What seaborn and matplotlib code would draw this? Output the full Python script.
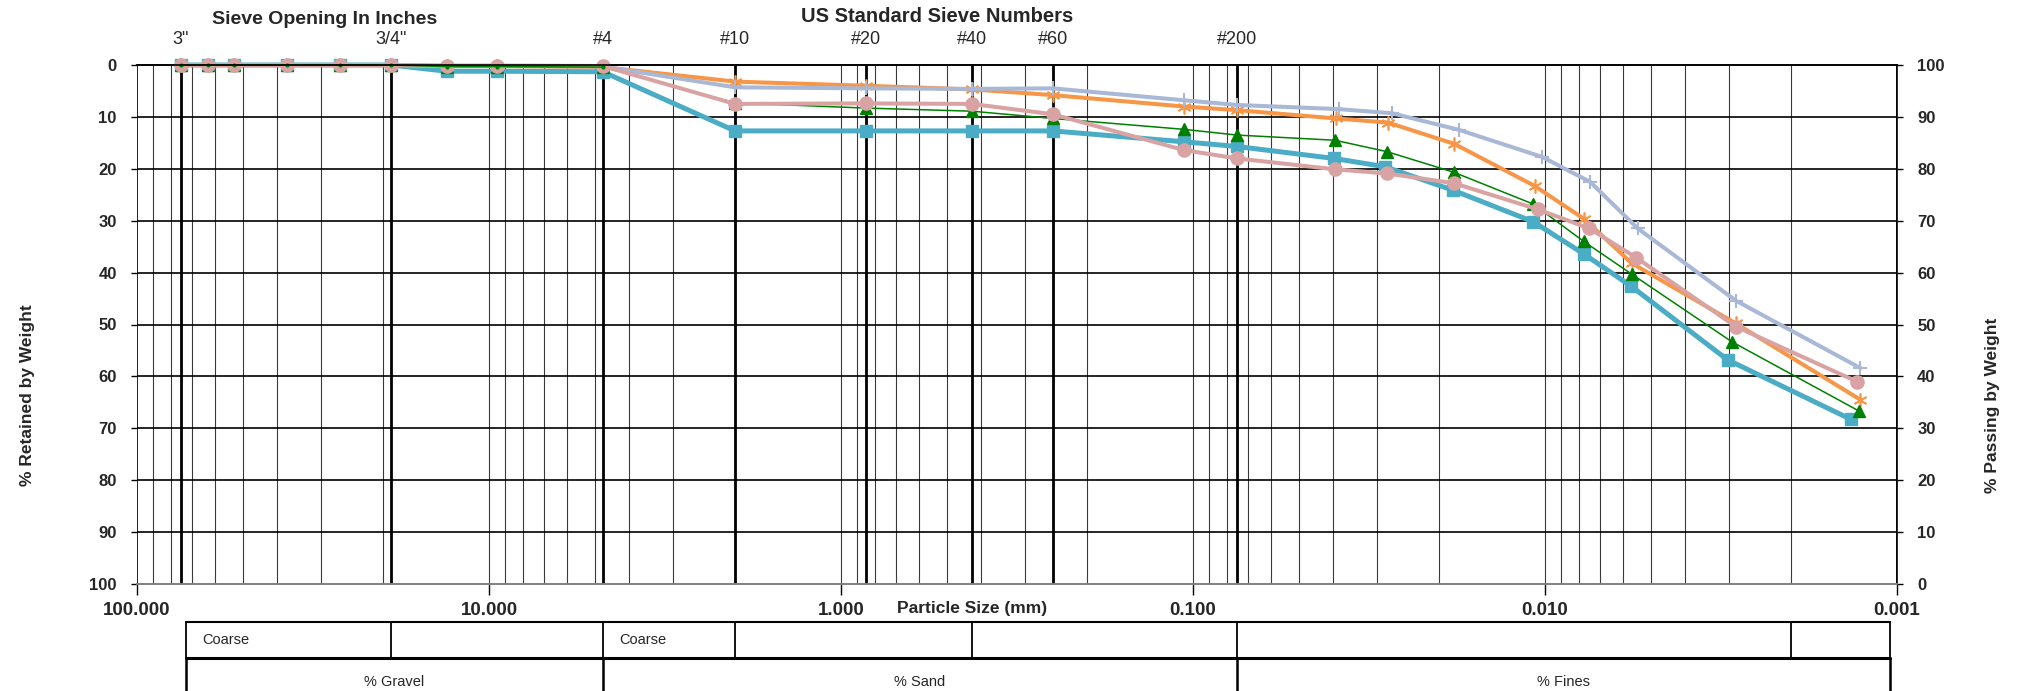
import matplotlib
matplotlib.use('Agg')
import matplotlib.pyplot as plt
import matplotlib.transforms as mtransforms
from matplotlib.ticker import FixedLocator, NullLocator
import seaborn as sns

# ── data: particle size (mm) vs % passing ───────────────────────────────────
sieve_mm = [75, 63, 53, 37.5, 26.5, 19.0, 13.2, 9.5, 4.75, 2.0, 0.85, 0.425, 0.25, 0.106, 0.075]

blue_d = sieve_mm + [0.0398, 0.0285, 0.0183, 0.0108, 0.00776, 0.0057, 0.00303, 0.00135]
blue_p = [100, 100, 100, 100, 100, 100, 98.8, 98.8, 98.7, 87.3, 87.3, 87.3, 87.3, 85.2, 84.3,
          82.0, 80.4, 75.9, 69.8, 63.6, 57.4, 43.2, 31.7]

orange_d = sieve_mm + [0.0393, 0.0279, 0.0181, 0.0107, 0.00773, 0.00567, 0.00287, 0.00127]
orange_p = [100, 100, 100, 100, 100, 100, 99.8, 99.8, 99.6, 96.8, 96.0, 95.3, 94.2, 92.0, 91.3,
            89.7, 88.9, 84.8, 76.7, 70.3, 61.8, 50.2, 35.5]

grey_d = sieve_mm + [0.0385, 0.0272, 0.01755, 0.0102, 0.00745, 0.00545, 0.00287, 0.00127]
grey_p = [100, 100, 100, 100, 100, 100, 99.8, 99.8, 99.7, 95.7, 95.5, 95.4, 95.5, 93.2, 92.3,
          91.5, 90.7, 87.5, 82.3, 77.5, 68.5, 54.6, 41.6]

pink_d = sieve_mm + [0.0395, 0.0281, 0.0181, 0.0105, 0.00748, 0.00551, 0.00287, 0.0013]
pink_p = [100, 100, 100, 100, 100, 100, 99.9, 99.9, 99.8, 92.5, 92.6, 92.5, 90.5, 83.6, 82.0,
          79.9, 79.1, 77.2, 72.2, 68.5, 62.9, 49.6, 39.0]

green_d = sieve_mm + [0.0395, 0.0281, 0.0181, 0.0108, 0.00776, 0.00567, 0.00295, 0.00128]
green_p = [100, 100, 100, 100, 100, 100, 99.7, 99.7, 99.6, 92.7, 91.7, 91.1, 89.7, 87.6, 86.5,
           85.5, 83.3, 79.3, 73.2, 66.0, 59.7, 46.7, 33.3]

# sieves marked on the top edge
mark_mm = [75, 19.0, 4.75, 2.0, 0.85, 0.425, 0.25, 0.075]
mark_lbl = ['3"', '3/4"', '#4', '#10', '#20', '#40', '#60', '#200']

x_ticks = [100, 10, 1, 0.1, 0.01, 0.001]
y_ticks = list(range(0, 101, 10))

# soil classification strip under the chart
row1_edges = [72.6, 19.0, 4.75, 2.0, 0.425, 0.075, 0.002, 0.00105]
row1_text = ['Coarse', '', 'Coarse', '', '', '', '']
row2_edges = [72.6, 4.75, 0.075, 0.00105]
row2_text = ['% Gravel', '% Sand', '% Fines']

sns.set_theme(style='white')
plt.rcParams['font.family'] = ['Liberation Sans', 'DejaVu Sans']

W, H = 2022, 691
fig = plt.figure(figsize=(W / 100, H / 100), dpi=100)
ax = fig.add_axes([137 / W, 1 - 584 / H, 1760 / W, 519 / H])
ax.set_xscale('log')
ax.set_xlim(100, 0.001)
ax.set_ylim(100, 0)
ax2 = ax.twinx()
ax2.set_ylim(0, 100)

# grid: minor log lines, decade lines, thick sieve lines, horizontal every 10
minor = [m * 10.0 ** e for e in range(-3, 2) for m in range(2, 10)]
for v in minor:
    ax.axvline(v, color='#3a3a3a', lw=0.8, zorder=1)
for v in x_ticks[1:-1]:
    ax.axvline(v, color='#3a3a3a', lw=0.8, zorder=1)
for v in mark_mm:
    ax.axvline(v, color='black', lw=2.0, zorder=1.5)
for v in y_ticks[1:-1]:
    ax.axhline(v, color='black', lw=1.2, zorder=1)

ax.xaxis.set_major_locator(FixedLocator(x_ticks))
ax.xaxis.set_minor_locator(NullLocator())
ax.set_xticklabels([f'{v:.3f}' for v in x_ticks], fontsize=13.5, fontweight='bold')
ax.tick_params(axis='x', direction='out', length=8, width=1, color='black', pad=5, bottom=True)
ax.yaxis.set_major_locator(FixedLocator(y_ticks))
ax.set_yticklabels([str(v) for v in y_ticks], fontsize=12, fontweight='bold')
ax.tick_params(axis='y', direction='out', length=4.5, width=1, color='black', pad=10, left=True)
ax2.yaxis.set_major_locator(FixedLocator(y_ticks))
ax2.set_yticklabels([str(v) for v in y_ticks], fontsize=12, fontweight='bold')
ax2.tick_params(axis='y', direction='out', length=4.5, width=1, color='black', pad=10, right=True)
for a in (ax, ax2):
    for s in a.spines.values():
        s.set_color('black'); s.set_linewidth(1.2)
    a.spines['bottom'].set_color('#808080')
    a.spines['left'].set_visible(False)
ax2.spines['right'].set_visible(False)
ax.axvline(100, color='black', lw=1.2, zorder=1)
ax.axvline(0.001, color='black', lw=1.2, zorder=1)

series = [
    (blue_d, blue_p, '#4BACC6', 's', 9, 3.6, 1),
    (orange_d, orange_p, '#F79646', (6, 2, 0), 10, 2.9, 1.2),
    (grey_d, grey_p, '#A9B8D6', '+', 10, 2.9, 1.5),
    (green_d, green_p, '#008000', '^', 8, 1.1, 1),
    (pink_d, pink_p, '#D9A3A3', 'o', 9.5, 2.9, 1),
]
for d, p, c, m, ms, lw, mew in series:
    sns.lineplot(x=d, y=p, ax=ax2, color=c, marker=m, markersize=ms, linewidth=lw,
                 markeredgecolor=c, markeredgewidth=mew, sort=False, estimator=None,
                 clip_on=False)
# green line stays visible across the stacked coarse markers
sns.lineplot(x=green_d[:9], y=green_p[:9], ax=ax2, color='#008000', linewidth=1.1,
             marker='o', markersize=3, markeredgewidth=0, sort=False, estimator=None,
             clip_on=False)

# top labels
trans = mtransforms.blended_transform_factory(ax.transData, ax.transAxes)
for v, t in zip(mark_mm, mark_lbl):
    ax.text(v, (584 - 40) / 519, t, transform=trans, ha='center', va='center', fontsize=13)
fig.text(325 / W, 1 - 20 / H, 'Sieve Opening In Inches', ha='center', va='center',
         fontsize=14, fontweight='bold')
fig.text(937 / W, 1 - 17 / H, 'US Standard Sieve Numbers', ha='center', va='center',
         fontsize=14.5, fontweight='bold')
fig.text(897 / W, 1 - 608 / H, 'Particle Size (mm)', ha='left', va='center',
         fontsize=12.5, fontweight='bold')
fig.text(28 / W, 1 - 395 / H, '% Retained by Weight', rotation=90, ha='center', va='center',
         fontsize=12.5, fontweight='bold')
fig.text(1993 / W, 1 - 405 / H, '% Passing by Weight', rotation=90, ha='center', va='center',
         fontsize=12.5, fontweight='bold')

# classification table
y_top, y_mid, y_bot = (584 - 622) / 519, (584 - 658) / 519, (584 - 700) / 519
kw = dict(transform=trans, clip_on=False, color='black')
ax.plot([row1_edges[0], row1_edges[-1]], [y_top, y_top], lw=1.5, **kw)
ax.plot([row1_edges[0], row1_edges[-1]], [y_mid, y_mid], lw=2.2, **kw)
for v in row1_edges:
    ax.plot([v, v], [y_top, y_mid], lw=1.3, **kw)
for v in row2_edges:
    ax.plot([v, v], [y_mid, y_bot], lw=1.8, **kw)
for i, t in enumerate(row1_text):
    if t:
        x0 = row1_edges[i] * 0.9
        ax.text(x0, (y_top + y_mid) / 2, t, transform=trans, ha='left', va='center', fontsize=10.5)
for i, t in enumerate(row2_text):
    xc = (row2_edges[i] * row2_edges[i + 1]) ** 0.5
    ax.text(xc, (y_mid + y_bot - 0.02) / 2 + 0.005, t, transform=trans, ha='center', va='center',
            fontsize=10.5)

fig.savefig('out.png', dpi=100)
